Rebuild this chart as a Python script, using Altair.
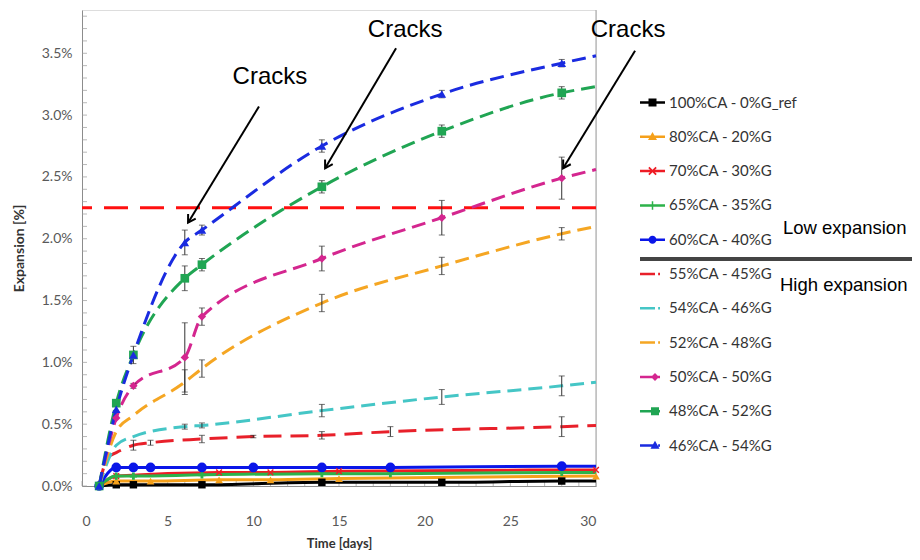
import math
import altair as alt
import pandas as pd

# ---------------- data ----------------
series = ["100%CA - 0%G_ref", "80%CA - 20%G", "70%CA - 30%G", "65%CA - 35%G", "60%CA - 40%G",
          "55%CA - 45%G", "54%CA - 46%G", "52%CA - 48%G", "50%CA - 50%G", "48%CA - 52%G", "46%CA - 54%G"]
colors = ["#000000", "#F5A01A", "#EE1C25", "#2DB24A", "#0A16E8",
          "#E8202A", "#45C6C6", "#F5A623", "#D4268F", "#20A553", "#1A2BE0"]

# curve values (Expansion %) per series; the last point is the curve end at day 30
ref_days = [1, 2, 3, 7, 14, 21, 28, 30]
ref_vals = [0, 0.01, 0.01, 0.01, 0.03, 0.03, 0.04, 0.04]
g20_days = [1, 2, 4, 8, 11, 15, 30]
g20_vals = [0, 0.04, 0.04, 0.05, 0.05, 0.06, 0.08]
g30_days = [1, 2, 8, 11, 15, 30]
g30_vals = [0, 0.08, 0.11, 0.11, 0.12, 0.13]
g35_days = [1, 2, 3, 7, 14, 18, 28, 30]
g35_vals = [0, 0.08, 0.08, 0.09, 0.10, 0.10, 0.11, 0.11]
g40_days = [1, 2, 3, 4, 7, 10, 14, 18, 28, 30]
g40_vals = [0, 0.15, 0.15, 0.15, 0.15, 0.15, 0.15, 0.15, 0.16, 0.16]
g45_days = [1, 1.5, 2, 3, 4, 7, 10, 14, 18, 28, 30]
g45_vals = [0, 0.23, 0.27, 0.33, 0.35, 0.38, 0.40, 0.41, 0.44, 0.48, 0.49]
g46_days = [1, 2, 3, 6, 7, 14, 21, 28, 30]
g46_vals = [0, 0.33, 0.40, 0.48, 0.49, 0.61, 0.72, 0.81, 0.84]
g48_days = [1, 2, 3, 6, 7, 14, 21, 28, 30]
g48_vals = [0, 0.44, 0.57, 0.84, 0.95, 1.48, 1.78, 2.04, 2.10]
g50_days = [1, 2, 3, 6, 7, 14, 21, 28, 30]
g50_vals = [0, 0.55, 0.81, 1.04, 1.37, 1.84, 2.17, 2.49, 2.56]
g52_days = [1, 2, 3, 6, 7, 14, 21, 28, 30]
g52_vals = [0, 0.67, 1.06, 1.68, 1.79, 2.42, 2.87, 3.18, 3.23]
g54_days = [1, 2, 3, 6, 7, 14, 21, 28, 30]
g54_vals = [0, 0.62, 1.06, 1.97, 2.07, 2.75, 3.17, 3.42, 3.48]

curve_days = [ref_days, g20_days, g30_days, g35_days, g40_days,
              g45_days, g46_days, g48_days, g50_days, g52_days, g54_days]
curve_vals = [ref_vals, g20_vals, g30_vals, g35_vals, g40_vals,
              g45_vals, g46_vals, g48_vals, g50_vals, g52_vals, g54_vals]
# number of leading points of each curve that are drawn as measured markers (0 = no markers)
marker_counts = [7, 7, 6, 7, 9, 0, 0, 0, 8, 8, 8]
marker_shapes = ["square", "triangle-up",
                 "M-1,-0.7L-0.7,-1L0,-0.3L0.7,-1L1,-0.7L0.3,0L1,0.7L0.7,1L0,0.3L-0.7,1L-1,0.7L-0.3,0Z",
                 "cross", "circle", None, None, None, "diamond", "square", "triangle-up"]
marker_sizes = [55, 60, 45, 50, 95, 0, 0, 0, 70, 75, 75]

# error bars (day, half-width in %) for the high-expansion mixes
err_series = ["55%CA - 45%G"] * 7 + ["54%CA - 46%G"] * 5 + ["52%CA - 48%G"] * 5 + \
             ["50%CA - 50%G"] * 6 + ["48%CA - 52%G"] * 5 + ["46%CA - 54%G"] * 6
err_days = [3, 4, 7, 10, 14, 18, 28,
            6, 7, 14, 21, 28,
            6, 7, 14, 21, 28,
            3, 6, 7, 14, 21, 28,
            6, 7, 14, 21, 28,
            3, 6, 7, 14, 21, 28]
err_half = [0.04, 0.02, 0.03, 0.01, 0.03, 0.04, 0.08,
            0.02, 0.02, 0.05, 0.06, 0.08,
            0.10, 0.07, 0.07, 0.07, 0.05,
            0.02, 0.28, 0.07, 0.10, 0.14, 0.17,
            0.10, 0.05, 0.05, 0.05, 0.05,
            0.07, 0.10, 0.04, 0.05, 0.03, 0.03]

threshold = [2.25]
x_ticks = [0, 5, 10, 15, 20, 25, 30]
y_ticks = [0.0, 0.5, 1.0, 1.5, 2.0, 2.5, 3.0, 3.5]
x_minor = list(range(0, 31))
y_minor = [round(i * 0.1, 1) for i in range(39)]

crack_text_t = [10.97, 18.86, 31.87]
crack_text_v = [3.31, 3.69, 3.69]
arrow_t1 = [10.33, 18.33, 32.28]
arrow_v1 = [3.07, 3.54, 3.52]
arrow_t2 = [6.19, 14.19, 28.08]
arrow_v2 = [2.13, 2.57, 2.57]

# ---------------- layout ----------------
W, H = 514, 476
XMAX, YMAX = 30, 3.85
FONT = "Lato"

# legend symbols: line + marker paths
BAR = "M-1,-0.1H1V0.1H-1Z"
DBAR = "M-1,-0.1H0.2V0.1H-1Z M0.45,-0.1H0.6V0.1H0.45Z"
legend_shapes = [
    BAR + " M-0.32,-0.32H0.32V0.32H-0.32Z",
    BAR + " M0,-0.38L0.36,0.26H-0.36Z",
    BAR + " M-0.34,-0.24L-0.24,-0.34L0,-0.1L0.24,-0.34L0.34,-0.24L0.1,0L0.34,0.24L0.24,0.34L0,0.1L-0.24,0.34L-0.34,0.24L-0.1,0Z",
    BAR + " M-0.06,-0.34H0.06V-0.06H0.34V0.06H0.06V0.34H-0.06V0.06H-0.34V-0.06H-0.06Z",
    BAR + " M-0.32,0A0.32,0.32,0,1,1,0.32,0A0.32,0.32,0,1,1,-0.32,0Z",
    DBAR,
    DBAR,
    DBAR,
    DBAR + " M0.2,-0.32L0.52,0L0.2,0.32L-0.12,0Z",
    DBAR + " M-0.12,-0.32H0.52V0.32H-0.12Z",
    DBAR + " M0.2,-0.38L0.56,0.26H-0.16Z",
]

# ---------------- frames ----------------
rows = []
for s, ds, vs in zip(series, curve_days, curve_vals):
    for d, v in zip(ds, vs):
        rows.append({"series": s, "t": d, "v": v})
curves = pd.DataFrame(rows)

prow = []
for s, ds, vs, n in zip(series, curve_days, curve_vals, marker_counts):
    for d, v in list(zip(ds, vs))[:n]:
        prow.append({"series": s, "t": d, "v": v})
points = pd.DataFrame(prow)

errs = pd.DataFrame({"series": err_series, "t": err_days, "h": err_half})
val_lookup = {(r.series, r.t): r.v for r in curves.itertuples()}
errs["v"] = [val_lookup[(s, t)] for s, t in zip(errs.series, errs.t)]
errs["lo"] = errs.v - errs.h
errs["hi"] = errs.v + errs.h
caps = pd.concat([errs.assign(c=errs.lo), errs.assign(c=errs.hi)])

px_t = W / XMAX
px_v = H / YMAX
arrows = pd.DataFrame({"t1": arrow_t1, "v1": arrow_v1, "t2": arrow_t2, "v2": arrow_v2})
arrows["ang"] = [
    math.degrees(math.atan2(-(b - a) * px_t, -(d - c) * px_v)) % 360
    for a, b, c, d in zip(arrow_t1, arrow_t2, arrow_v1, arrow_v2)
]
texts = pd.DataFrame({"t": crack_text_t, "v": crack_text_v, "label": ["Cracks"] * 3})

# one row per series for the legend-only layer
legend_rows = pd.DataFrame({"series": series})

# ---------------- scales ----------------
xs = alt.Scale(domain=[0, XMAX], nice=False, zero=False)
ys = alt.Scale(domain=[0, YMAX], nice=False, zero=False)
cs = alt.Scale(domain=series, range=colors)

X = alt.X("t:Q", scale=xs, axis=alt.Axis(
    values=x_ticks, tickSize=0, labelPadding=28, labelFontSize=14, labelFont=FONT,
    labelColor="#595959", domainColor="#8c8c8c", grid=False,
    title="Time [days]", titleFont=FONT, titleFontSize=13, titleFontWeight="bold",
    titleColor="#333333", titlePadding=9))
Y = alt.Y("v:Q", scale=ys, axis=alt.Axis(
    values=y_ticks, tickSize=0, labelPadding=10, labelFontSize=14, labelFont=FONT,
    labelColor="#595959", domainColor="#8c8c8c", grid=False,
    labelExpr="format(datum.value, '.1f') + '%'",
    title="Expansion [%]", titleFont=FONT, titleFontSize=14, titleFontWeight="bold",
    titleColor="#333333", titlePadding=15))
C = alt.Color("series:N", scale=cs, legend=None)

base = alt.Chart(curves)

low = series[:5]
solid = base.transform_filter(alt.FieldOneOfPredicate(field="series", oneOf=low)).mark_line(
    strokeWidth=3, interpolate="monotone").encode(x=X, y=Y, color=C, detail="series:N")
dashed = base.transform_filter(alt.FieldOneOfPredicate(field="series", oneOf=series[6:])).mark_line(
    strokeWidth=3, interpolate="monotone", strokeDash=[14, 7]).encode(x=X, y=Y, color=C, detail="series:N")
red_dash = base.transform_filter(alt.FieldEqualPredicate(field="series", equal=series[5])).mark_line(
    strokeWidth=3, interpolate="monotone", strokeDash=[18, 9]).encode(x=X, y=Y, color=C)

thresh = alt.Chart(pd.DataFrame({"v": threshold})).mark_rule(
    color="#FF1010", strokeWidth=3, strokeDash=[24, 12]).encode(y=alt.Y("v:Q", scale=ys))

err_rules = alt.Chart(errs).mark_rule(color="#333333", strokeWidth=1).encode(
    x=alt.X("t:Q", scale=xs), y=alt.Y("lo:Q", scale=ys), y2="hi:Q")
err_caps = alt.Chart(caps).mark_tick(color="#333333", orient="horizontal", size=6, thickness=1).encode(
    x=alt.X("t:Q", scale=xs), y=alt.Y("c:Q", scale=ys))

point_layers = []
for s, shp, sz in zip(series, marker_shapes, marker_sizes):
    if shp is None:
        continue
    point_layers.append(
        alt.Chart(points).transform_filter(alt.FieldEqualPredicate(field="series", equal=s)).mark_point(
            filled=True, shape=shp, size=sz, opacity=1).encode(
            x=alt.X("t:Q", scale=xs), y=alt.Y("v:Q", scale=ys), color=C))

leg = alt.Legend(orient="none", legendX=558, legendY=80, title=None, symbolSize=625,
                 labelFont=FONT, labelFontSize=15, labelColor="#333333", rowPadding=13.3,
                 padding=0, labelOffset=4, symbolStrokeWidth=0, symbolOpacity=1)
# legend-only layer: its marks sit below the visible domain and are clipped away
legend_layer = alt.Chart(legend_rows).transform_calculate(t="5", v="-1").mark_point(
    filled=True, opacity=1, clip=True).encode(
    x=alt.X("t:Q", scale=xs), y=alt.Y("v:Q", scale=ys),
    color=alt.Color("series:N", scale=cs, legend=leg),
    shape=alt.Shape("series:N", scale=alt.Scale(domain=series, range=legend_shapes), legend=leg))

x_min_ticks = alt.Chart(pd.DataFrame({"t": x_minor})).mark_tick(
    orient="vertical", size=5, thickness=1, color="#9a9a9a").encode(
    x=alt.X("t:Q", scale=xs), y=alt.value(H - 2.5))
y_min_ticks = alt.Chart(pd.DataFrame({"v": y_minor})).mark_tick(
    orient="horizontal", size=5, thickness=1, color="#9a9a9a").encode(
    y=alt.Y("v:Q", scale=ys), x=alt.value(2.5))
right_border = alt.Chart(pd.DataFrame({"a": [0]})).mark_rule(color="#b0b0b0", strokeWidth=1.2).encode(
    x=alt.value(W), y=alt.value(0), y2=alt.value(H))

arrow_lines = alt.Chart(arrows).mark_rule(color="black", strokeWidth=2).encode(
    x=alt.X("t1:Q", scale=xs), y=alt.Y("v1:Q", scale=ys), x2="t2:Q", y2="v2:Q")
arrow_heads = alt.Chart(arrows).mark_point(
    shape="M-0.6,-1L0,0L0.6,-1", filled=False, strokeWidth=2, size=220, color="black", opacity=1).encode(
    x=alt.X("t2:Q", scale=xs), y=alt.Y("v2:Q", scale=ys), angle=alt.Angle("ang:Q", scale=None))
crack_labels = alt.Chart(texts).mark_text(
    font="Liberation Sans", fontSize=24, color="black").encode(
    x=alt.X("t:Q", scale=xs), y=alt.Y("v:Q", scale=ys), text="label:N")

sep_rule = alt.Chart(pd.DataFrame({"a": [0]})).mark_rule(color="#444444", strokeWidth=4).encode(
    x=alt.value(558), x2=alt.value(830), y=alt.value(249))
low_txt = alt.Chart(pd.DataFrame({"label": ["Low expansion"]})).mark_text(
    font="Liberation Sans", fontSize=18.5, align="left", baseline="middle", color="black").encode(
    x=alt.value(701), y=alt.value(218), text="label:N")
high_txt = alt.Chart(pd.DataFrame({"label": ["High expansion"]})).mark_text(
    font="Liberation Sans", fontSize=18.5, align="left", baseline="middle", color="black").encode(
    x=alt.value(698), y=alt.value(275), text="label:N")

# the legend layer comes first so that its explicit legend wins the merge
chart = alt.layer(
    legend_layer, x_min_ticks, y_min_ticks, right_border, thresh,
    solid, red_dash, dashed, err_rules, err_caps, *point_layers,
    arrow_lines, arrow_heads, crack_labels, sep_rule, low_txt, high_txt,
).properties(
    width=W, height=H,
    autosize=alt.AutoSizeParams(type="none"),
    padding={"left": 74, "top": 2, "right": 316, "bottom": 66},
).configure_view(stroke=None).configure(background="white")

chart.save("out.html", embed_options={"renderer": "svg", "actions": False})
